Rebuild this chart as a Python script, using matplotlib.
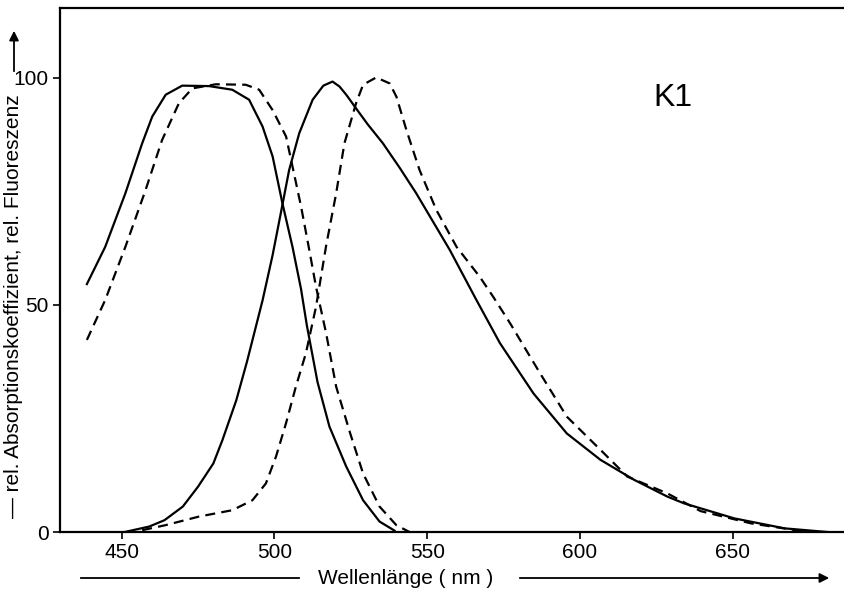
import matplotlib
matplotlib.use("Agg")
import matplotlib.pyplot as plt

# Absorption (solid / dashed) and fluorescence (solid / dashed) spectra, K1
abs_solid_wl = [438.6, 444.6, 451.2, 456.7, 460.0, 464.4, 469.8, 478.6, 486.2, 491.7,
                496.1, 499.4, 502.6, 505.9, 508.7, 510.6, 514.1, 518.0, 523.5, 529.0,
                534.4, 539.3]
abs_solid_val = [54.6, 62.8, 74.6, 85.6, 91.5, 96.3, 98.3, 98.2, 97.4, 95.2,
                 89.3, 82.7, 72.4, 62.8, 53.5, 45.5, 33.0, 23.2, 14.4, 7.0,
                 2.3, 0.3]

abs_dash_wl = [438.6, 444.6, 451.2, 457.8, 463.2, 468.7, 473.1, 480.8, 490.6, 495.0,
               499.4, 503.8, 505.9, 508.7, 511.4, 513.6, 516.9, 520.2, 524.8, 529.0,
               534.4, 539.9, 544.2]
abs_dash_val = [42.3, 51.1, 62.8, 75.3, 86.3, 94.4, 97.7, 98.6, 98.5, 97.4,
                92.9, 87.1, 80.5, 71.7, 62.1, 54.0, 43.8, 32.0, 21.7, 12.9,
                5.6, 1.5, 0.0]

em_solid_wl = [451.0, 459.0, 464.0, 470.0, 475.0, 480.0, 483.0, 487.5, 491.0, 496.1,
               499.4, 502.3, 504.8, 508.1, 512.5, 516.0, 519.0, 521.3, 523.5, 526.7,
               530.5, 535.5, 541.0, 546.4, 557.4, 566.1, 573.8, 584.8, 595.7, 606.7,
               617.7, 628.6, 634.1, 650.5, 667.0, 681.0]
em_solid_val = [0.0, 1.2, 2.6, 5.6, 10.0, 15.1, 20.3, 29.0, 37.5, 51.0,
                61.0, 71.0, 79.7, 87.8, 95.2, 98.3, 99.2, 98.1, 96.3, 93.3,
                89.8, 85.6, 80.2, 74.6, 62.1, 51.1, 41.6, 30.5, 21.7, 15.9,
                11.5, 7.8, 6.3, 3.0, 0.8, 0.0]

em_dash_wl = [456.7, 464.3, 475.3, 486.2, 492.8, 497.2, 500.5, 503.8, 507.0, 510.3,
              513.6, 516.9, 520.2, 522.9, 526.7, 529.0, 533.3, 537.7, 539.9, 543.2,
              547.5, 553.0, 559.6, 567.2, 571.6, 577.1, 586.9, 595.7, 606.7, 615.5,
              628.6, 639.5, 656.0, 674.5]
em_dash_val = [0.4, 1.5, 3.4, 4.8, 7.0, 10.7, 16.6, 24.0, 32.0, 39.4,
               49.6, 63.0, 74.6, 85.6, 94.4, 98.5, 100.1, 98.8, 95.9, 88.5,
               79.7, 70.9, 62.8, 56.2, 51.8, 46.0, 35.0, 25.4, 18.1, 12.2,
               8.5, 4.6, 1.9, 0.0]

x_ticks = [450, 500, 550, 600, 650]
y_ticks = [0, 50, 100]

FONT = ["Liberation Sans", "DejaVu Sans"]
plt.rcParams["font.family"] = FONT

fig = plt.figure(figsize=(8.44, 5.92), dpi=100)
ax = fig.add_axes([60 / 844, 60 / 592, 783 / 844, 524 / 592])

dash = (0, (4.5, 2.8))
ax.plot(abs_solid_wl, abs_solid_val, color="black", lw=1.6)
ax.plot(abs_dash_wl, abs_dash_val, color="black", lw=1.6, linestyle=dash)
ax.plot(em_solid_wl, em_solid_val, color="black", lw=1.6)
ax.plot(em_dash_wl, em_dash_val, color="black", lw=1.6, linestyle=dash)

ax.set_xlim(429.8, 686.1)
ax.set_ylim(0, 115.4)
ax.set_xticks(x_ticks)
ax.set_yticks(y_ticks)
ax.tick_params(direction="out", length=5, width=1.2, labelsize=15, pad=3)
ax.spines["right"].set_visible(False)
for s in ("left", "top", "bottom"):
    ax.spines[s].set_linewidth(1.6)

ax.text(630.3, 95.6, "K1", fontsize=23, ha="center", va="center")

# y axis label with upward arrow
fig.text(14 / 844, 1 - 306 / 592, "— rel. Absorptionskoeffizient, rel. Fluoreszenz",
         rotation=90, ha="center", va="center", fontsize=15)
fig.add_artist(matplotlib.patches.FancyArrowPatch(
    (14 / 844, 1 - 74 / 592), (14 / 844, 1 - 28 / 592),
    transform=fig.transFigure, arrowstyle="-|>", mutation_scale=14,
    lw=1.3, color="black"))

# x axis label with right arrow
fig.text(406 / 844, 1 - 578 / 592, "Wellenlänge ( nm )", ha="center", va="center",
         fontsize=15)
fig.add_artist(matplotlib.lines.Line2D([81 / 844, 299 / 844], [1 - 578 / 592] * 2,
                                       transform=fig.transFigure, color="black", lw=1.3))
fig.add_artist(matplotlib.patches.FancyArrowPatch(
    (517 / 844, 1 - 578 / 592), (832 / 844, 1 - 578 / 592),
    transform=fig.transFigure, arrowstyle="-|>", mutation_scale=14,
    lw=1.3, color="black"))

fig.savefig("out.png", dpi=100)
